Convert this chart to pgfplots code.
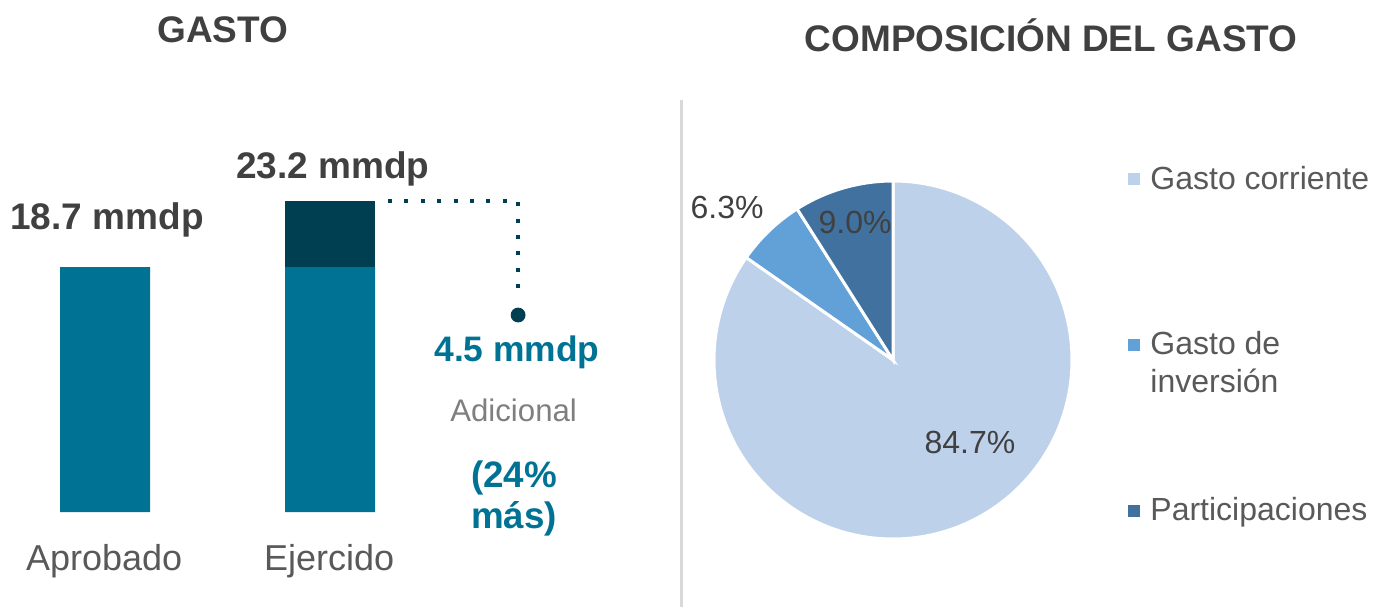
\documentclass[border=0pt]{standalone}
\usepackage{pgfplots}
\pgfplotsset{compat=1.18}
\usepackage{fontspec}
\setmainfont{Liberation Sans}
\definecolor{barteal}{HTML}{007395}
\definecolor{bardark}{HTML}{003F52}
\definecolor{txtdark}{HTML}{404040}
\definecolor{txtgray}{HTML}{595959}
\definecolor{txtlight}{HTML}{7F7F7F}
\definecolor{pieA}{HTML}{BDD1EA}
\definecolor{pieB}{HTML}{62A0D8}
\definecolor{pieC}{HTML}{41729F}
\definecolor{sepgray}{HTML}{D9D9D9}
\newcommand{\fs}[1]{\fontsize{#1}{1.2\dimexpr#1\relax}\selectfont}
\begin{document}
\begin{tikzpicture}
\path[use as bounding box] (0,0) rectangle (689pt,303.5pt);
\draw[sepgray, line width=1.5pt] (340.5pt,0pt) -- (340.5pt,253.5pt);
% ---------------- left: bars ----------------
\begin{axis}[
  at={(7.5pt,47.5pt)}, anchor=south west,
  x=112.5pt, y=7.3333pt,
  xmin=-0.4, xmax=2.4, ymin=2, ymax=24,
  hide axis, clip mode=individual,
]
% total executed (approved + additional 4.5)
\addplot[ybar, bar width=45pt, bar shift=0pt, fill=bardark, draw=none] coordinates {(1,23.2)};
% approved amount
\addplot[ybar, bar width=45pt, bar shift=0pt, fill=barteal, draw=none] coordinates {(0,18.7) (1,18.7)};
\addplot[bardark, line width=2pt, dash pattern=on 2pt off 6.2pt, sharp plot, no marks]
  coordinates {(1.258,23.2) (1.836,23.2) (1.836,16.93)};
\addplot[only marks, mark=*, mark size=3.5pt, color=bardark, mark options={fill=bardark}]
  coordinates {(1.836,15.43)};
\node[anchor=base, font=\fs{18.5pt}\bfseries, text=txtdark] at (axis cs:0.524,33.98) {GASTO};
\node[anchor=base, font=\fs{18.5pt}\bfseries, text=txtdark] at (axis cs:0.009,21.23) {18.7 mmdp};
\node[anchor=base, font=\fs{18.5pt}\bfseries, text=txtdark] at (axis cs:1.013,24.77) {23.2 mmdp};
\node[anchor=base, font=\fs{18pt}, text=txtgray] at (axis cs:-0.004,-1.955) {Aprobado};
\node[anchor=base, font=\fs{18pt}, text=txtgray] at (axis cs:0.996,-1.955) {Ejercido};
\node[anchor=base, font=\fs{17.7pt}\bfseries, text=barteal] at (axis cs:1.831,12.25) {4.5 mmdp};
\node[anchor=base, font=\fs{15.6pt}, text=txtlight] at (axis cs:1.816,8.16) {Adicional};
\node[anchor=base, font=\fs{18.4pt}\bfseries, text=barteal] at (axis cs:1.818,3.70) {(24\%};
\node[anchor=base, font=\fs{18.4pt}\bfseries, text=barteal] at (axis cs:1.818,0.909) {más)};
\end{axis}
% ---------------- right: pie ----------------
\begin{axis}[
  at={(339.1pt,16.1pt)}, anchor=south west,
  x=89.5pt, y=89.5pt,
  xmin=-1.2, xmax=1.2, ymin=-1.2, ymax=1.2,
  hide axis, clip=false,
]
\fill[pieA, draw=white, line width=1.5pt] (axis cs:0,0) -- (axis cs:0,1)
  arc[start angle=90, end angle={90-3.6*84.7}, radius=89.5pt] -- cycle;
\fill[pieB, draw=white, line width=1.5pt] (axis cs:0,0) -- ({cos(90-3.6*84.7)},{sin(90-3.6*84.7)})
  arc[start angle={90-3.6*84.7}, end angle={90-3.6*(84.7+6.3)}, radius=89.5pt] -- cycle;
\fill[pieC, draw=white, line width=1.5pt] (axis cs:0,0) -- ({cos(90-3.6*91.0)},{sin(90-3.6*91.0)})
  arc[start angle={90-3.6*91.0}, end angle={-270}, radius=89.5pt] -- cycle;
\node[anchor=base, font=\fs{16pt}, text=txtdark] at (axis cs:0.430,-0.525) {84.7\%};
\node[anchor=base, font=\fs{16pt}, text=txtdark] at (axis cs:-0.212,0.709) {9.0\%};
\node[anchor=base, font=\fs{16pt}, text=txtdark] at (axis cs:-0.927,0.793) {6.3\%};
\node[anchor=base, font=\fs{18.5pt}\bfseries, text=txtdark] at (axis cs:0.883,1.726) {COMPOSICIÓN DEL GASTO};
% legend
\fill[pieA] (axis cs:1.346,1.011) +(-3pt,-3pt) rectangle +(3pt,3pt);
\fill[pieB] (axis cs:1.346,0.084) +(-3pt,-3pt) rectangle +(3pt,3pt);
\fill[pieC] (axis cs:1.346,-0.844) +(-3pt,-3pt) rectangle +(3pt,3pt);
\node[anchor=base west, inner sep=0pt, font=\fs{16pt}, text=txtgray] at (axis cs:1.436,0.955) {Gasto corriente};
\node[anchor=base west, inner sep=0pt, font=\fs{16pt}, text=txtgray] at (axis cs:1.436,0.028) {Gasto de};
\node[anchor=base west, inner sep=0pt, font=\fs{16pt}, text=txtgray] at (axis cs:1.436,-0.179) {inversión};
\node[anchor=base west, inner sep=0pt, font=\fs{16pt}, text=txtgray] at (axis cs:1.436,-0.894) {Participaciones};
\end{axis}
\end{tikzpicture}
\end{document}
